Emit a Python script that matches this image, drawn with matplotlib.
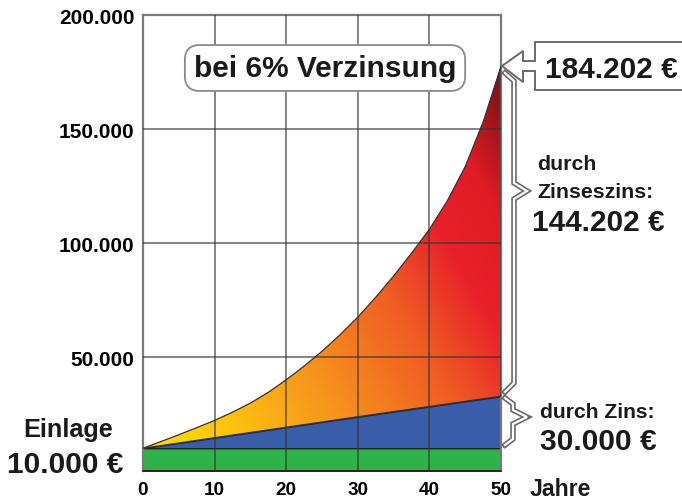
import numpy as np
import matplotlib.pyplot as plt
from matplotlib.colors import LinearSegmentedColormap
from matplotlib.patches import Polygon
from matplotlib.lines import Line2D

plt.rcParams['font.family'] = ['Liberation Sans', 'DejaVu Sans']
plt.rcParams['font.weight'] = 'bold'

# Werte (Jahre / Euro)
jahre = [0, 2.5, 5, 7.5, 10, 12.5, 15, 17.5, 20, 22.5, 25, 27.5, 30,
         32.5, 35, 37.5, 40, 42.5, 45, 47.5, 50]
zinseszins = [10000, 12900, 15900, 19000, 22200, 25800, 29800, 34500, 40000, 46000, 52500, 59700, 67500,
              76200, 85500, 95500, 106000, 118500, 133500, 153000, 177500]
jahre_zins = [0, 10, 20, 30, 40, 50]
einfach_zins = [10000, 14600, 19200, 23800, 28300, 32800]
einlage = 10000

x_ticks = [0, 10, 20, 30, 40, 50]
y_ticks = [50000, 100000, 150000, 200000]
y_labels = ['50.000', '100.000', '150.000', '200.000']

W, H = 682, 502
fig = plt.figure(figsize=(W / 100, H / 100), dpi=100)


def fp(x, y):
    # Pixel -> Figurkoordinaten
    return (x / W, 1 - y / H)


ax = fig.add_axes([143 / W, 1 - 472 / H, (501 - 143) / W, (472 - 16) / H])
ax.set_xlim(0, 50)
ax.set_ylim(0, 200000)

# Einlage (gruen)
ax.fill_between([0, 50], 0, einlage, color='#2db34a', ec='#1a1a1a', lw=1.2, zorder=2)
# einfacher Zins (blau)
ax.fill_between(jahre_zins, einlage, einfach_zins, color='#3a5daa', ec='#222222', lw=1.0, zorder=2)

# Zinseszins: Flaeche mit Farbverlauf
verts = list(zip(jahre, zinseszins)) + list(zip(jahre_zins[::-1], einfach_zins[::-1]))
poly = Polygon(verts, closed=True, fc='none', ec='#333333', lw=0.9, zorder=3)
ax.add_patch(poly)

cmap = LinearSegmentedColormap.from_list('zz', [
    (0.0, '#ffe600'), (0.2, '#fdc010'), (0.38, '#f7941d'), (0.6, '#ef5a24'),
    (0.74, '#e8212a'), (0.86, '#e01b24'), (1.0, '#7a1214')])
gx, gy = np.meshgrid(np.linspace(0, 1, 300), np.linspace(0, 1, 300))
s = 0.6 * gx + 0.46 * gy
im = ax.imshow(s, extent=[0, 50, 0, 200000], origin='lower', aspect='auto',
               cmap=cmap, vmin=0, vmax=1, zorder=2.5)
im.set_clip_path(poly)

# Gitter
for xv in x_ticks[1:-1]:
    ax.axvline(xv, color='#333333', alpha=0.6, lw=1.4, zorder=4)
for yv in y_ticks[:-1]:
    ax.axhline(yv, color='#333333', alpha=0.6, lw=1.4, zorder=4)

for side in ['left', 'top', 'right']:
    ax.spines[side].set_color('#7a7a7a')
    ax.spines[side].set_linewidth(1.6)
ax.spines['bottom'].set_color('#222222')
ax.spines['bottom'].set_linewidth(1.2)

ax.set_xticks(x_ticks)
ax.set_xticklabels([str(v) for v in x_ticks], fontsize=13.6, fontweight='bold')
ax.set_yticks(y_ticks)
ax.set_yticklabels(y_labels, fontsize=15, fontweight='bold')
ax.tick_params(length=0)
ax.tick_params(axis='x', pad=7)
ax.tick_params(axis='y', pad=6)

txt = '#1a1a1a'
fig.text(*fp(530, 490), 'Jahre', fontsize=16.7, ha='left', va='center', color=txt)
fig.text(*fp(68, 430), 'Einlage', fontsize=18.2, ha='center', va='center', color=txt)
fig.text(*fp(65, 465), '10.000 €', fontsize=21.5, ha='center', va='center', color=txt)

fig.text(*fp(325, 69), 'bei 6% Verzinsung', fontsize=21.5, ha='center', va='center', color=txt,
         bbox=dict(boxstyle='round,pad=0.3,rounding_size=0.5', fc='white', ec='#8a8a8a', lw=1.3))

# Pfeil-Kasten rechts oben
pfeil = [(535, 43), (700, 43), (700, 91), (535, 91), (535, 72), (523, 72), (523, 83),
         (502, 67), (523, 52), (523, 62), (535, 62)]
fig.add_artist(Polygon([fp(x, y) for x, y in pfeil], closed=True, fc='white', ec='#6a6a6a',
                       lw=1.4, transform=fig.transFigure))
fig.text(*fp(545, 70), '184.202 €', fontsize=21.4, ha='left', va='center', color=txt)


def klammer(pts):
    xs = [fp(x, y)[0] for x, y in pts]
    ys = [fp(x, y)[1] for x, y in pts]
    fig.add_artist(Line2D(xs, ys, color='#6a6a6a', lw=4, transform=fig.transFigure,
                          solid_joinstyle='miter'))
    fig.add_artist(Line2D(xs, ys, color='white', lw=1.6, transform=fig.transFigure,
                          solid_joinstyle='miter'))


klammer([(505, 74), (514, 82), (514, 184), (527, 192), (514, 200), (514, 384), (505, 393)])
klammer([(505, 399), (513, 405), (513, 411), (527, 418), (513, 425), (513, 440), (505, 446)])

fig.text(*fp(537, 165), 'durch', fontsize=15.3, ha='left', va='center', color=txt)
fig.text(*fp(537, 193), 'Zinseszins:', fontsize=15.3, ha='left', va='center', color=txt)
fig.text(*fp(532, 223), '144.202 €', fontsize=21.4, ha='left', va='center', color=txt)
fig.text(*fp(540, 413), 'durch Zins:', fontsize=15.2, ha='left', va='center', color=txt)
fig.text(*fp(540, 442), '30.000 €', fontsize=21.6, ha='left', va='center', color=txt)

fig.savefig('out.png', dpi=100)
